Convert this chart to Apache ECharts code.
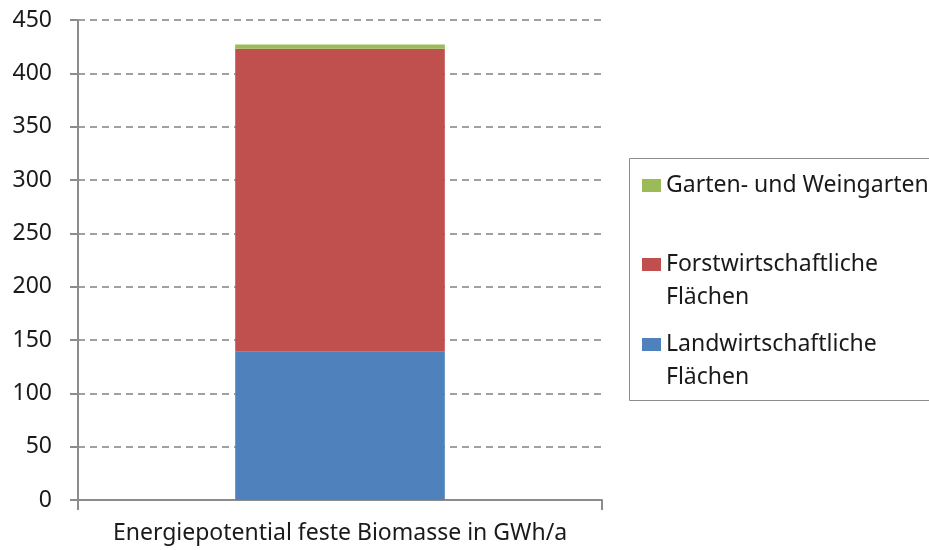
<!DOCTYPE html>
<html>
<head>
<meta charset="utf-8">
<title>Energiepotential feste Biomasse</title>
<script src="https://cdn.jsdelivr.net/npm/echarts@6/dist/echarts.min.js"></script>
<style>
  html, body { margin: 0; padding: 0; background: #fff; }
  #chart { width: 929px; height: 550px; }
</style>
</head>
<body>
<div id="chart"></div>
<script>
// Kategorien und Werte (GWh/a)
var categories = ['Energiepotential feste Biomasse in GWh/a'];
var landwirtschaft = [139];
var forstwirtschaft = [284];
var gartenWein = [4];
var yTicks = [0, 50, 100, 150, 200, 250, 300, 350, 400, 450];

var FONT = '"Noto Sans", "Open Sans", sans-serif';
var TEXT = '#1a1a1a';
var chart = echarts.init(document.getElementById('chart'));

// Legende: je Eintrag ein eigener Block; zweizeilige Namen bekommen eine
// leere erste Zeile, damit das Symbol neben der ersten Textzeile steht
function legendBlock(name, top, twoLines) {
  return {
    left: 642,
    top: top,
    padding: 0,
    itemWidth: 19,
    itemHeight: 13,
    itemGap: 0,
    icon: 'rect',
    selectedMode: false,
    data: [name],
    formatter: function (n) { return twoLines ? '\n' + n : n; },
    textStyle: {
      fontFamily: FONT,
      fontSize: 23,
      color: TEXT,
      lineHeight: 33
    }
  };
}

var option = {
  animation: false,
  grid: { left: 78, right: 327, top: 20, bottom: 50 },
  graphic: [{
    type: 'rect',
    shape: { x: 629.5, y: 158.5, width: 320, height: 242 },
    style: { fill: '#fff', stroke: '#8c8c8c', lineWidth: 1 },
    z: -1
  }],
  legend: [
    legendBlock('Garten- und Weingarten', 169, false),
    legendBlock('Forstwirtschaftliche\nFlächen', 215, true),
    legendBlock('Landwirtschaftliche\nFlächen', 295, true)
  ],
  xAxis: {
    type: 'category',
    data: categories,
    axisLine: { lineStyle: { color: '#8c8c8c', width: 2 } },
    axisTick: { show: true, length: 10, lineStyle: { color: '#8c8c8c', width: 2 } },
    axisLabel: { fontFamily: FONT, fontSize: 23, color: TEXT, margin: 22 }
  },
  yAxis: {
    type: 'value',
    min: yTicks[0],
    max: yTicks[yTicks.length - 1],
    interval: yTicks[1] - yTicks[0],
    axisLine: { show: true, lineStyle: { color: '#8c8c8c', width: 2 } },
    axisTick: { show: true, length: 8, lineStyle: { color: '#8c8c8c', width: 2 } },
    axisLabel: { fontFamily: FONT, fontSize: 23, color: TEXT, margin: 26 },
    splitLine: { lineStyle: { color: '#a0a0a0', type: [7, 5], width: 2 } }
  },
  series: [
    {
      name: 'Landwirtschaftliche\nFlächen',
      type: 'bar',
      stack: 'total',
      barWidth: '40%',
      data: landwirtschaft,
      itemStyle: { color: '#4F81BD' }
    },
    {
      name: 'Forstwirtschaftliche\nFlächen',
      type: 'bar',
      stack: 'total',
      data: forstwirtschaft,
      itemStyle: { color: '#C0504D' }
    },
    {
      name: 'Garten- und Weingarten',
      type: 'bar',
      stack: 'total',
      data: gartenWein,
      itemStyle: { color: '#9BBB59' }
    }
  ]
};
chart.setOption(option);
</script>
</body>
</html>
